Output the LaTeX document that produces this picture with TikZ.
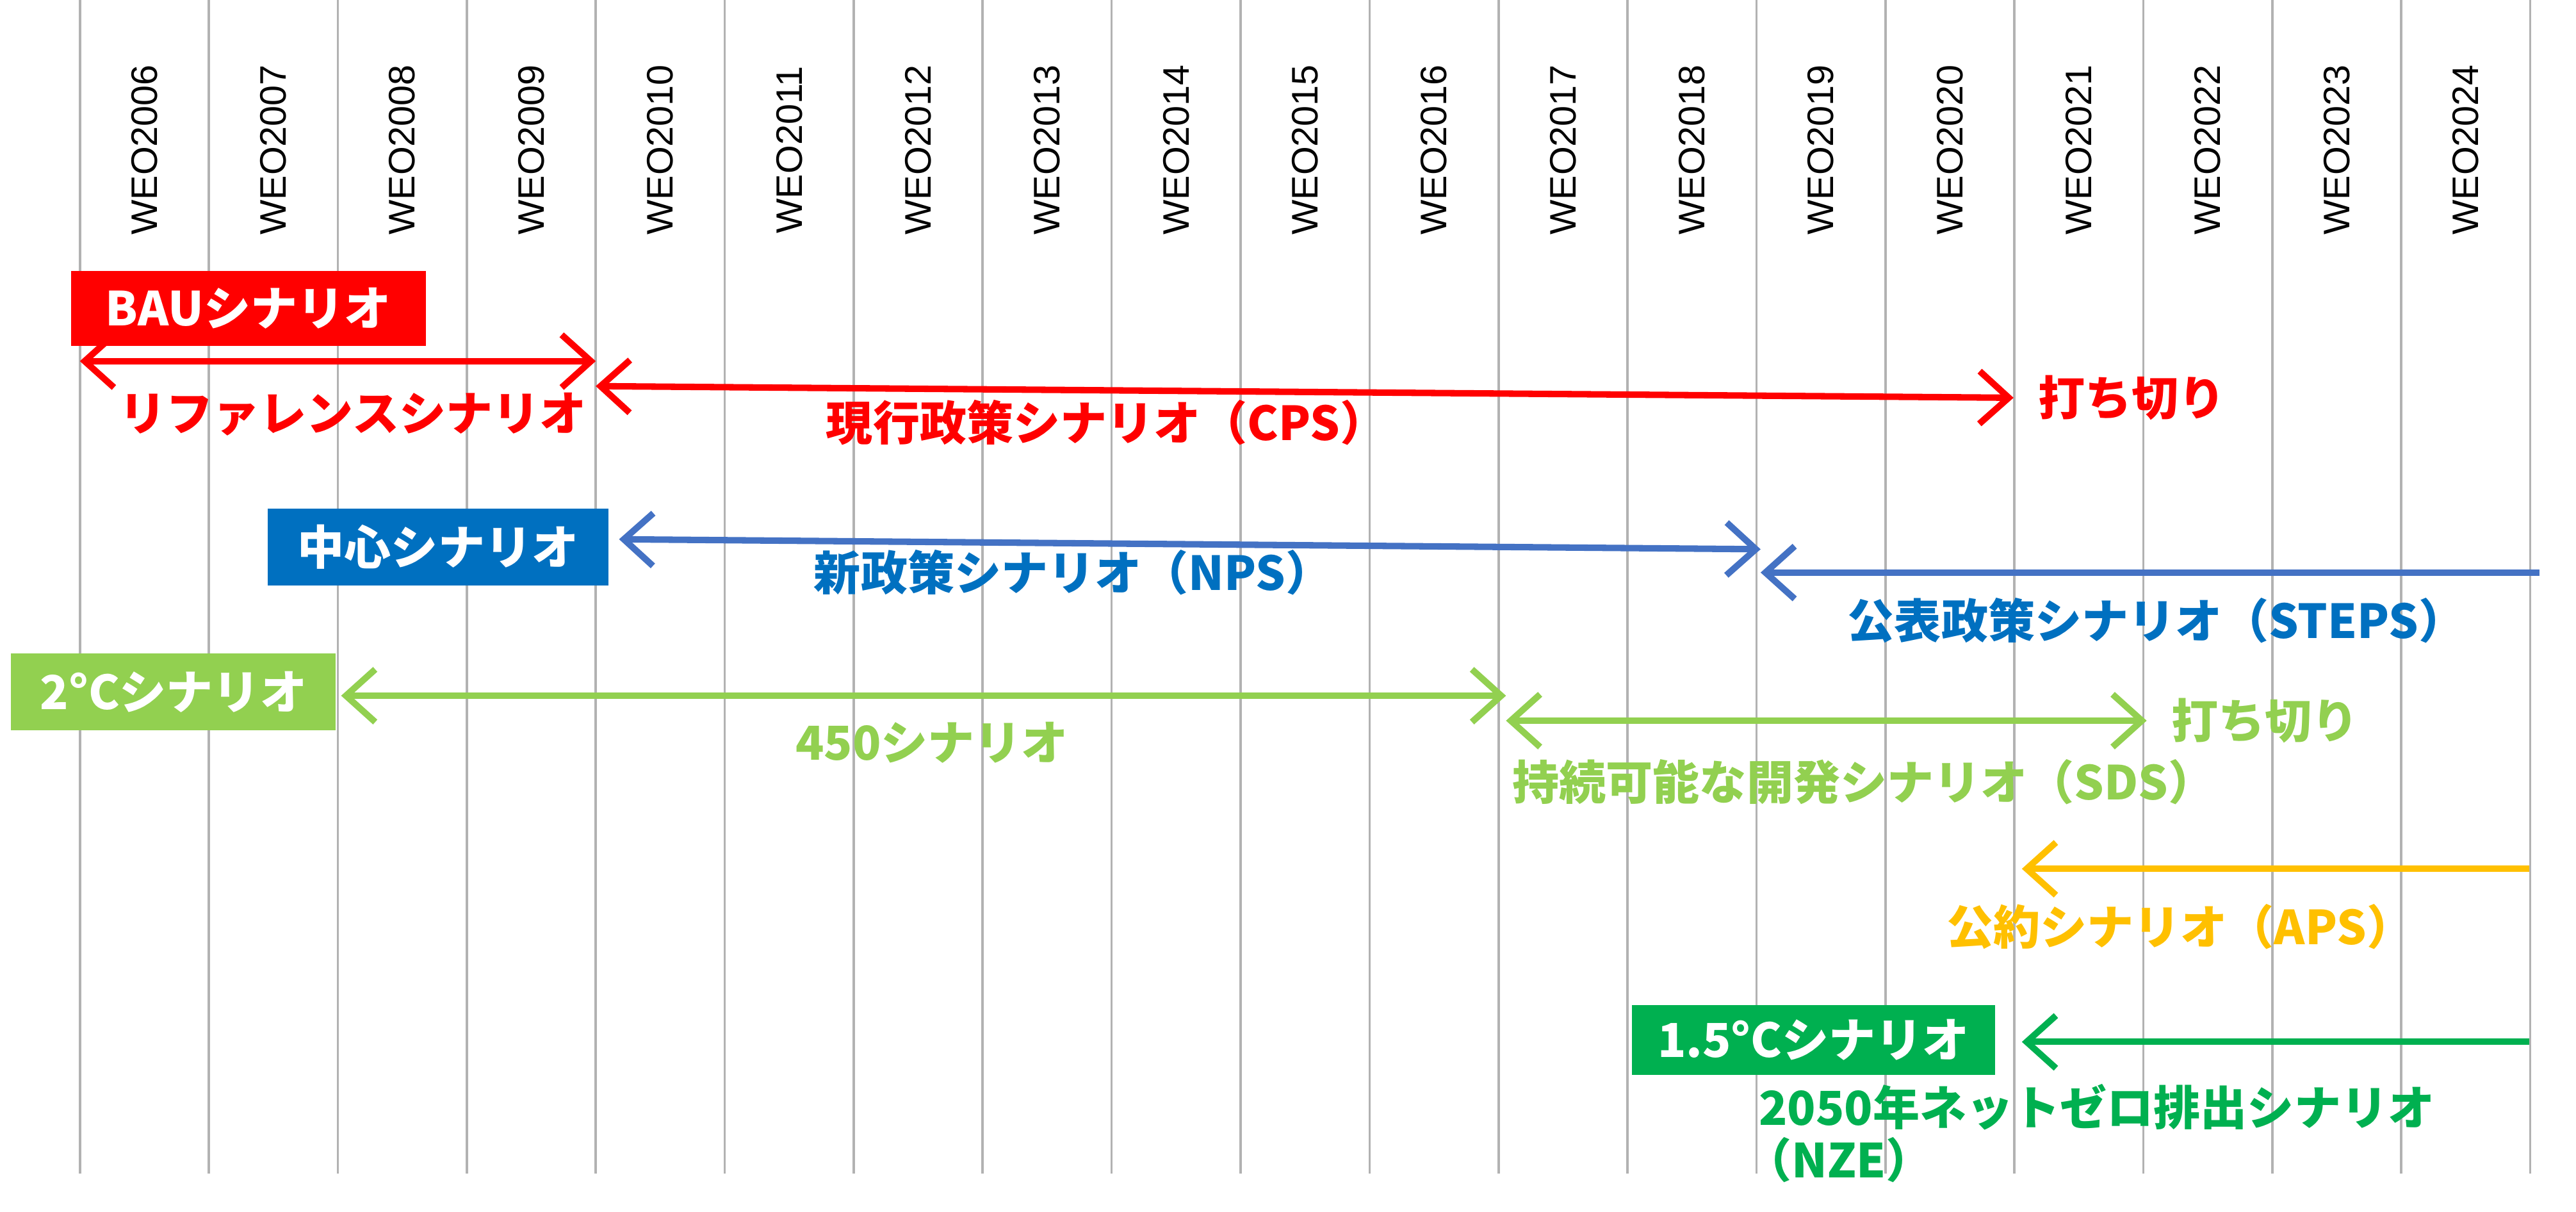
\documentclass[tikz,border=0pt]{standalone}
\usepackage{fontspec}
\setsansfont{Liberation Sans}
\newfontfamily\jp{Noto Sans CJK JP}
\usetikzlibrary{arrows.meta, positioning}
\definecolor{cpsRed}{RGB}{255,0,0}
\definecolor{npsBlue}{RGB}{68,114,196}
\definecolor{boxBlue}{RGB}{0,112,192}
\definecolor{sdsGreen}{RGB}{146,208,80}
\definecolor{apsYellow}{RGB}{255,192,0}
\definecolor{nzeGreen}{RGB}{0,176,80}
\begin{document}
\begin{tikzpicture}[x=0.01cm, y=-0.01cm,
		% box with scenario name
		tagBox/.style={
			rectangle, inner sep=0pt, anchor=north west,
			font=\jp\bfseries\fontsize{8pt}{9pt}\selectfont,
			text=white
		},
		% text under an arrow
		scenLabel/.style={
			inner sep=0pt,
			font=\jp\bfseries\fontsize{8pt}{9pt}\selectfont
		},
		yearLabel/.style={
			rotate=90, inner sep=0pt,
			font=\sffamily\fontsize{6.3pt}{7pt}\selectfont
		},
		scenArrow/.style={
			line width=1.1pt,
			arrows={Straight Barb[length=5pt,width=9pt,line width=1.1pt]-Straight Barb[length=5pt,width=9pt,line width=1.1pt]}
		},
		oneArrow/.style={
			line width=1.1pt,
			arrows={Straight Barb[length=5pt,width=9pt,line width=1.1pt]-}
		}
	]
	\useasboundingbox (0,0) rectangle (1548,728);
	
	% grid of report years
	\foreach \i in {0,...,19} {
		\draw[black!30, line width=0.4pt] (48+77.5*\i,0) -- (48+77.5*\i,705);
	}
	\foreach \yr [count=\i from 0] in {2006,...,2024} {
		\node[yearLabel] (weo\yr) at (86.75+77.5*\i,90) {WEO\yr};
	}
	
	% red
	\node[tagBox, fill=cpsRed, text width=2.13cm, minimum height=0.45cm, align=center] (bau) at (42,162) {BAUシナリオ};
	\coordinate (r0) at (48,217);
	\coordinate (r1) at (358,217);
	\coordinate (r2) at (358,232);
	\coordinate (r3) at (1210,239);
	\draw[scenArrow, cpsRed] (r0) -- (r1);
	\draw[scenArrow, cpsRed] (r2) -- (r3);
	\node[scenLabel, text=cpsRed] (ref) at (212,249) {リファレンスシナリオ};
	\node[scenLabel, text=cpsRed] (cps) at (665,254) {現行政策シナリオ（CPS）};
	\node[scenLabel, text=cpsRed, right=4pt of r3] (cpsEnd) {打ち切り};
	
	% blue
	\node[tagBox, fill=boxBlue, text width=2.05cm, minimum height=0.46cm, align=center] (center) at (160,305) {中心シナリオ};
	\coordinate (b0) at (372,324);
	\coordinate (b1) at (1058,330);
	\coordinate (b2) at (1526,344);
	\draw[scenArrow, npsBlue] (b0) -- (b1);
	\draw[oneArrow, npsBlue] (b1 |- b2) -- (b2);
	\node[scenLabel, text=boxBlue] (nps) at (645,344) {新政策シナリオ（NPS）};
	\node[scenLabel, text=boxBlue] (steps) at (1296,373) {公表政策シナリオ（STEPS）};
	
	% light green
	\node[tagBox, fill=sdsGreen, text width=1.95cm, minimum height=0.46cm, align=center] (twoC) at (6,392) {2°Cシナリオ};
	\coordinate (g0) at (205,418);
	\coordinate (g1) at (905,418);
	\coordinate (g2) at (905,433);
	\coordinate (g3) at (1290,433);
	\draw[scenArrow, sdsGreen] (g0) -- (g1);
	\draw[scenArrow, sdsGreen] (g2) -- (g3);
	\node[scenLabel, text=sdsGreen] (s450) at (560,446) {450シナリオ};
	\node[scenLabel, text=sdsGreen, right=4pt of g3] (sdsEnd) {打ち切り};
	\node[scenLabel, text=sdsGreen] (sds) at (1120,470) {持続可能な開発シナリオ（SDS）};
	
	% yellow
	\coordinate (y0) at (1215,522);
	\coordinate (y1) at (1520,522);
	\draw[oneArrow, apsYellow] (y0) -- (y1);
	\node[scenLabel, text=apsYellow] (aps) at (1310,557) {公約シナリオ（APS）};
	
	% dark green
	\node[tagBox, fill=nzeGreen, text width=2.18cm, minimum height=0.42cm, align=center] (onefive) at (980,603) {1.5°Cシナリオ};
	\coordinate (n0) at (1215,626);
	\coordinate (n1) at (1520,626);
	\draw[oneArrow, nzeGreen] (n0) -- (n1);
	\node[scenLabel, text=nzeGreen] (nze) at (1260,665) {2050年ネットゼロ排出シナリオ};
	\node[scenLabel, text=nzeGreen] (nzeAbbr) at (1105,697) {（NZE）};
\end{tikzpicture}
\end{document}
